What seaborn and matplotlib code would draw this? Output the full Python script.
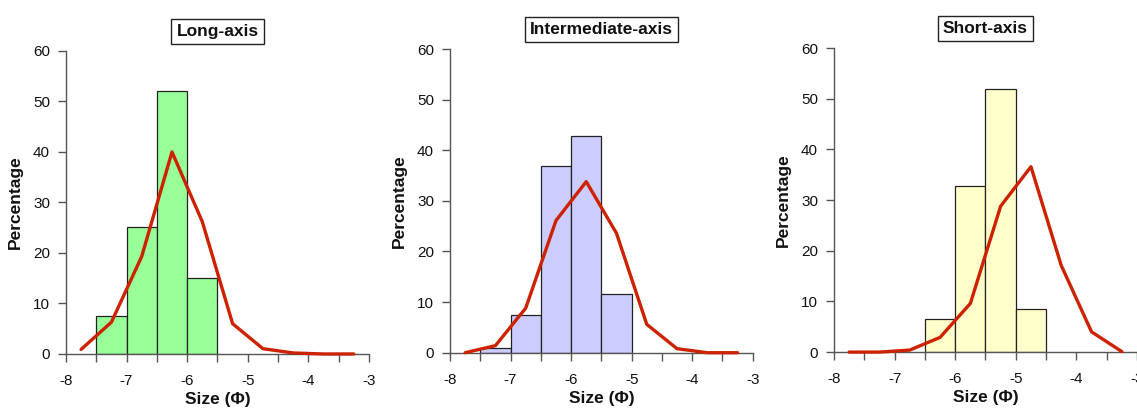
import numpy as np
import pandas as pd
import matplotlib
matplotlib.use("Agg")
import matplotlib.pyplot as plt
import seaborn as sns

sns.set_theme(style="white")
plt.rcParams['font.family'] = ['Liberation Sans', 'DejaVu Sans']
plt.rcParams['text.color'] = '#111111'
plt.rcParams['axes.labelcolor'] = '#111111'
plt.rcParams['xtick.color'] = '#111111'
plt.rcParams['ytick.color'] = '#111111'

# ---- data ----
titles = ["Long-axis", "Intermediate-axis", "Short-axis"]
bar_colors = ["#99FF99", "#CCCCFF", "#FFFFCC"]

bin_edges = [-8.0, -7.5, -7.0, -6.5, -6.0, -5.5, -5.0, -4.5, -4.0, -3.5, -3.0]
bin_centers = [-7.75, -7.25, -6.75, -6.25, -5.75, -5.25, -4.75, -4.25, -3.75, -3.25]

long_bars = [0, 7.6, 25.2, 52.1, 15.1, 0, 0, 0, 0, 0]
inter_bars = [0, 0.9, 7.5, 36.9, 42.9, 11.6, 0, 0, 0, 0]
short_bars = [0, 0, 0, 6.5, 32.8, 52.0, 8.5, 0, 0, 0]

long_curve = [0.9, 6.3, 19.3, 40.0, 26.2, 6.0, 1.05, 0.2, 0.0, 0.0]
inter_curve = [0.0, 1.4, 8.8, 26.1, 33.8, 23.6, 5.6, 0.8, 0.0, 0.0]
short_curve = [0.0, 0.0, 0.4, 2.9, 9.6, 28.8, 36.6, 17.1, 4.0, 0.1]

bars_all = [long_bars, inter_bars, short_bars]
curves_all = [long_curve, inter_curve, short_curve]

x_ticks = [-8, -7, -6, -5, -4, -3]
x_minor = [-7.5, -6.5, -5.5, -4.5, -3.5]
y_ticks = [0, 10, 20, 30, 40, 50, 60]

# ---- layout ----
fig = plt.figure(figsize=(11.37, 4.08), dpi=100)
positions = [
    [0.058, 0.1324, 0.2665, 0.7426],
    [0.3958, 0.1355, 0.2662, 0.7444],
    [0.7335, 0.137, 0.2665, 0.745],
]
spine_col = "#555555"

for i in range(3):
    ax = fig.add_axes(positions[i])
    df = pd.DataFrame({"x": bin_centers, "w": bars_all[i], "c": curves_all[i]})
    sns.histplot(data=df, x="x", weights="w", bins=bin_edges, stat="count",
                 color=bar_colors[i], alpha=1.0, edgecolor="#222222",
                 linewidth=0.9, ax=ax)
    for p in ax.patches:
        if p.get_height() <= 0:
            p.set_visible(False)
    sns.lineplot(data=df, x="x", y="c", color="#CC2200", linewidth=2.4,
                 ax=ax, clip_on=False, zorder=5)
    ax.set_xlim(-8, -3)
    ax.set_ylim(0, 60)
    ax.set_xticks(x_ticks)
    ax.set_xticklabels([str(t) for t in x_ticks])
    ax.set_xticks(x_minor, minor=True)
    ax.set_yticks(y_ticks)
    ax.set_yticklabels([str(t) for t in y_ticks])
    for s in ["top", "right"]:
        ax.spines[s].set_visible(False)
    for s in ["left", "bottom"]:
        ax.spines[s].set_color(spine_col)
        ax.spines[s].set_linewidth(1.0)
    ax.tick_params(axis="x", which="both", direction="out", length=5.5, width=1.0,
                   color=spine_col, pad=9, labelsize=11, bottom=True)
    ax.tick_params(axis="y", direction="out", length=5.5, width=1.0,
                   color=spine_col, pad=6, labelsize=11, left=True)
    ax.set_xlabel("Size (Φ)", fontsize=12.5, fontweight="bold", labelpad=3)
    ax.set_ylabel("Percentage", fontsize=12.5, fontweight="bold", labelpad=7)
    ax.set_title(titles[i], fontsize=12.5, fontweight="bold", pad=11,
                 bbox=dict(facecolor="white", edgecolor="#222222",
                           boxstyle="square,pad=0.3", linewidth=1.0))
    ax.grid(False)

fig.savefig("out.png", dpi=100)
